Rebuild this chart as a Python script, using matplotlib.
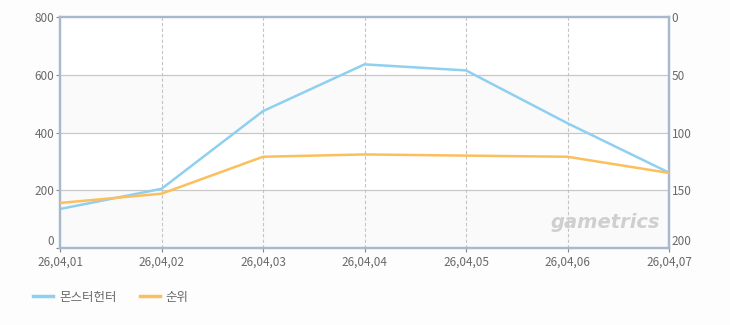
import matplotlib.pyplot as plt
from matplotlib.lines import Line2D

plt.rcParams['font.family'] = ['Noto Sans CJK KR', 'DejaVu Sans']

dates = ["26,04,01", "26,04,02", "26,04,03", "26,04,04", "26,04,05", "26,04,06", "26,04,07"]
monster_hunter = [135, 205, 474, 636, 615, 432, 261]   # left axis
rank = [161, 153, 121, 119, 120, 121, 135]             # right axis (inverted)

blue = "#8fd0f0"
orange = "#fcbf5e"
spine_col = "#a9b9cd"
text_col = "#6a6a6a"

fig = plt.figure(figsize=(7.3, 3.25), dpi=100, facecolor="#fdfdfd")
ax = fig.add_axes([60 / 730, 77 / 325, 609 / 730, 231 / 325])
ax.set_facecolor("white")
ax2 = ax.twinx()

x = list(range(len(dates)))

# alternating bands
for lo, hi in [(0, 200), (400, 600)]:
    ax.axhspan(lo, hi, color="#fafafa", zorder=0, lw=0)
for v in [200, 400, 600]:
    ax.axhline(v, color="#c8c8c8", lw=0.9, zorder=1)
for xi in x[1:-1]:
    ax.axvline(xi, color="#c4c4c4", lw=0.8, ls=(0, (3, 2)), zorder=1)

ax.plot(x, monster_hunter, color=blue, lw=1.8, zorder=3)
ax2.plot(x, rank, color=orange, lw=1.8, zorder=3)

ax.set_xlim(0, len(dates) - 1)
ax.set_ylim(0, 800)
ax.set_yticks([0, 200, 400, 600, 800])
ax2.set_ylim(200, 0)
ax2.set_yticks([0, 50, 100, 150, 200])
ax.set_xticks(x)
ax.set_xticklabels(dates)

for a in (ax, ax2):
    for s in a.spines.values():
        s.set_color(spine_col)
        s.set_linewidth(1.6)
    a.tick_params(colors=text_col, labelsize=8.5, length=3, width=0.8, pad=1)
ax.tick_params(axis="y", length=3, color="#888888")
ax2.tick_params(axis="y", length=0, pad=2)
ax.tick_params(axis="x", length=3, color="#888888", pad=2.5)
for lbl in ax.get_yticklabels() + ax2.get_yticklabels() + ax.get_xticklabels():
    lbl.set_color(text_col)
# lift the bottom y labels a touch so they clear the date labels
ax.get_yticklabels()[0].set_verticalalignment("bottom")
ax2.get_yticklabels()[-1].set_verticalalignment("bottom")

# watermark
ax.text(0.985, 0.07, "gametrics", transform=ax.transAxes, ha="right", va="bottom",
        fontsize=14, fontweight="bold", style="italic", color="#cfcfcf",
        family="DejaVu Sans", zorder=2)

handles = [Line2D([], [], color=blue, lw=2.5), Line2D([], [], color=orange, lw=2.5)]
fig.legend(handles, ["몬스터헌터", "순위"], loc="lower left", bbox_to_anchor=(22 / 730, 10 / 325),
           ncol=2, frameon=False, fontsize=9, handlelength=1.6, handletextpad=0.5,
           columnspacing=1.8, labelcolor=text_col)

fig.savefig("out.png", dpi=100, facecolor=fig.get_facecolor())
